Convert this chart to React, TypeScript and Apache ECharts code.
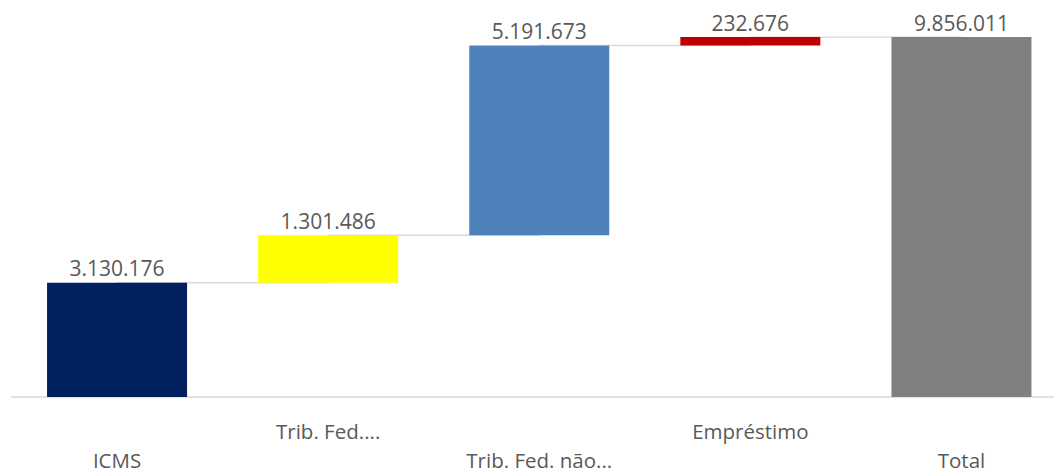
import React, { useEffect, useRef } from "react";
import * as echarts from "echarts";

const categories = ["ICMS", "Trib. Fed....", "Trib. Fed. não...", "Empréstimo", "Total"];
const values = [3130176, 1301486, 5191673, 232676, 9856011];
const isTotal = [false, false, false, false, true];
const colors = ["#002060", "#FFFF00", "#4F81BD", "#C00000", "#808080"];

function fmt(v: number): string {
  return String(Math.round(v)).replace(/\B(?=(\d{3})+(?!\d))/g, ".");
}

export default function App() {
  const ref = useRef<HTMLDivElement>(null);
  useEffect(() => {
    if (!ref.current) return;
    const chart = echarts.init(ref.current, undefined, { renderer: "svg" });
    const bases: number[] = [];
    const levels: number[] = [];
    let run = 0;
    values.forEach((v, i) => {
      if (isTotal[i]) {
        bases.push(0);
        run = v;
      } else {
        bases.push(run);
        run += v;
      }
      levels.push(run);
    });
    const maxV = Math.max(...levels);
    const lblStyle = { color: "#595959", fontFamily: "Open Sans", fontSize: 20.5, lineHeight: 18 };
    chart.setOption({
      animation: false,
      grid: { left: 11.5, right: 0, top: 37, bottom: 73, outerBoundsMode: "none", containLabel: false },
      xAxis: {
        type: "category",
        data: categories,
        axisLine: { show: true, lineStyle: { color: "#D9D9D9", width: 1.5 } },
        axisTick: { show: false },
        axisLabel: {
          interval: 0,
          margin: 25,
          ...lblStyle,
          formatter: (val: string, idx: number) =>
            idx % 2 === 0 ? "{sp| }\n{t|" + val + "}" : "{t|" + val + "}",
          rich: {
            t: { ...lblStyle },
            sp: { ...lblStyle, fontSize: 10, lineHeight: 29 },
          },
        },
      },
      yAxis: {
        type: "value",
        min: 0,
        max: maxV,
        show: false,
        splitLine: { show: false },
      },
      series: [
        {
          type: "line",
          data: levels,
          step: "end",
          symbol: "none",
          z: 1,
          lineStyle: { color: "#D9D9D9", width: 1.5 },
          silent: true,
        },
        {
          type: "bar",
          stack: "w",
          data: bases,
          barWidth: 140,
          itemStyle: { color: "transparent" },
          z: 2,
          silent: true,
        },
        {
          type: "bar",
          stack: "w",
          barWidth: 140,
          z: 3,
          data: values.map((v, i) => ({ value: v, itemStyle: { color: colors[i] } })),
          label: {
            show: true,
            position: "top",
            distance: 4,
            color: "#595959",
            fontFamily: "Open Sans",
            fontSize: 21,
            formatter: (p: any) => fmt(p.value),
          },
        },
      ],
    });
    return () => chart.dispose();
  }, []);
  return (
    <div style={{ position: "absolute", left: 0, top: 0, width: 1054, height: 470, overflow: "hidden" }}>
      <div ref={ref} style={{ width: 1067, height: 470 }} />
    </div>
  );
}
